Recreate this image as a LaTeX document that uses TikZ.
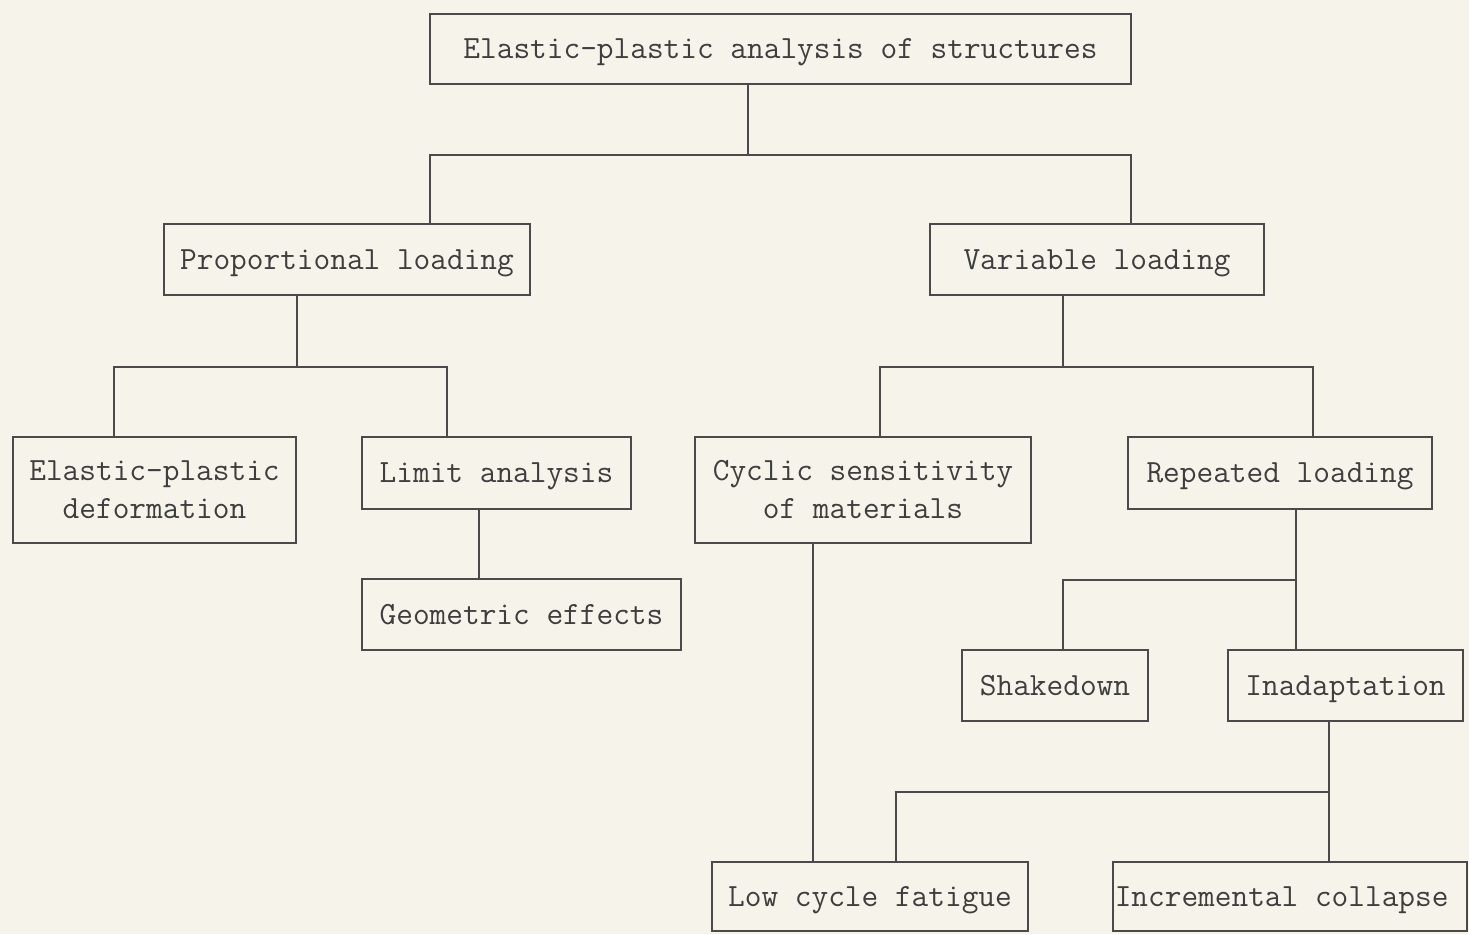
\documentclass[tikz,border=0pt]{standalone}
\usepackage{fontspec}
\begin{document}
\begin{tikzpicture}[x=0.5pt, y=-0.5pt, font=\fontsize{16.2}{19}\selectfont\ttfamily]
  \definecolor{paper}{HTML}{F6F4EA}
  \definecolor{ink}{HTML}{4A4A4A}
  \definecolor{type}{HTML}{3E3E3E}
  \tikzset{
    chartbox/.style={draw=ink, line width=1pt, inner sep=0pt, outer sep=0pt, text=type, align=center},
    oneline/.style={text height=12pt, text depth=2.1pt},
    twoline/.style={text height=31pt, text depth=2.1pt},
    chartline/.style={draw=ink, line width=1pt}
  }
  \fill [paper] (0,0) rectangle (1469,934);
  \useasboundingbox (0,0) rectangle (1469,934);
  % name / centre x / centre y / width / height / lines / text
  \def\boxes{
      root/780.5/49/701/70/oneline/{Elastic-plastic analysis of structures},
      prop/347/259.5/366/71/oneline/{Proportional loading},
      var/1097/259.5/334/71/oneline/{Variable loading},
      epd/154.5/490/283/106/twoline/{Elastic-plastic\\deformation},
      limit/496.5/473/269/72/oneline/{Limit analysis},
      geom/521.5/614.5/319/71/oneline/{Geometric effects},
      cyclic/863/490/336/106/twoline/{Cyclic sensitivity\\of materials},
      repeated/1280/473/304/72/oneline/{Repeated loading},
      shake/1055/685.5/186/71/oneline/{Shakedown},
      inadapt/1345.5/685.5/235/71/oneline/{Inadaptation},
      lowcyc/870/896.5/316/69/oneline/{Low cycle fatigue},
      incr/1290/896.5/354/69/oneline/{Incremental collapse}
  }
  \foreach \n/\x/\y/\w/\h/\l/\t in \boxes {
      \node (\n) at (\x, \y) [chartbox, \l, minimum width=\w*0.5pt, minimum height=\h*0.5pt] {\t};
  }

  % bus junctions and stem columns
  \coordinate (rootbus) at (748, 155);
  \coordinate (propcol) at (430, 0);
  \coordinate (varcol) at (1131, 0);
  \coordinate (propbus) at (297, 367);
  \coordinate (epdcol) at (114, 0);
  \coordinate (limitcol) at (447, 0);
  \coordinate (geomcol) at (479, 0);
  \coordinate (varbus) at (1063, 367);
  \coordinate (cycliccol) at (880, 0);
  \coordinate (repcol) at (1313, 0);
  \coordinate (repbus) at (1296, 580);
  \coordinate (shakecol) at (1063, 0);
  \coordinate (inbus) at (1329, 792);
  \coordinate (lowcol) at (896, 0);
  \coordinate (fatcol) at (813, 0);

  \draw [chartline] (root.south -| rootbus) -- (rootbus);
  \draw [chartline] (prop.north -| propcol) |- (rootbus) -| (var.north -| varcol);

  \draw [chartline] (prop.south -| propbus) -- (propbus);
  \draw [chartline] (epd.north -| epdcol) |- (propbus) -| (limit.north -| limitcol);
  \draw [chartline] (limit.south -| geomcol) -- (geom.north -| geomcol);

  \draw [chartline] (var.south -| varbus) -- (varbus);
  \draw [chartline] (cyclic.north -| cycliccol) |- (varbus) -| (repeated.north -| repcol);

  \draw [chartline] (repeated.south -| repbus) -- (inadapt.north -| repbus);
  \draw [chartline] (shake.north -| shakecol) |- (repbus);

  \draw [chartline] (inadapt.south -| inbus) -- (incr.north -| inbus);
  \draw [chartline] (lowcyc.north -| lowcol) |- (inbus);
  \draw [chartline] (cyclic.south -| fatcol) -- (lowcyc.north -| fatcol);
\end{tikzpicture}
\end{document}
